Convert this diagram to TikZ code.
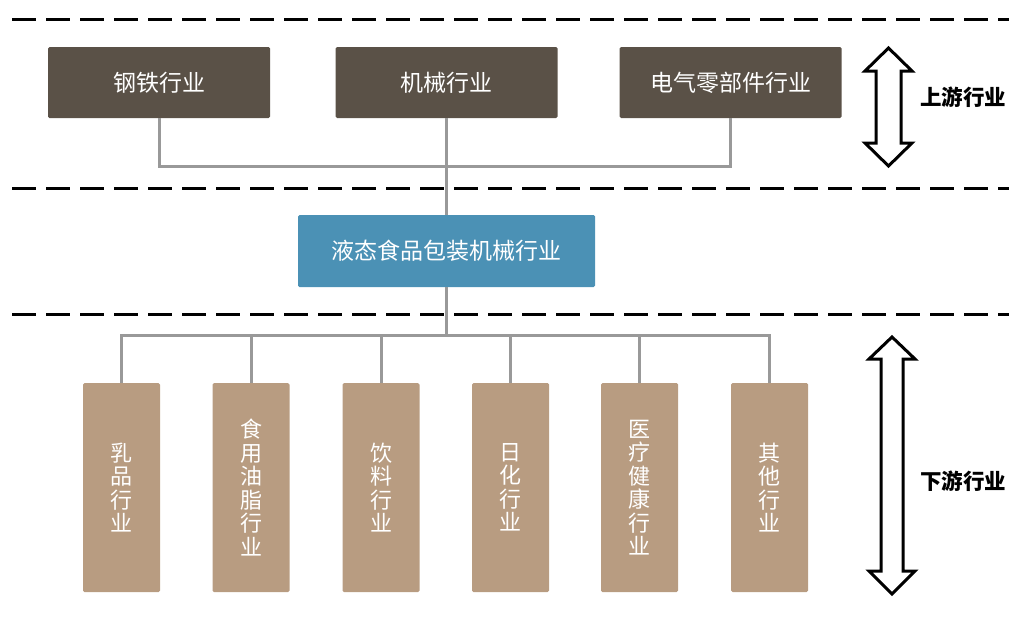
\documentclass[tikz,border=0pt]{standalone}
\usepackage{fontspec}
\newfontfamily\cjk{Noto Sans CJK SC}
\begin{document}
\begin{tikzpicture}[x=1pt,y=-1pt,
  sep/.style={line width=3pt, dash pattern=on 24pt off 10pt},
  topbox/.style={fill=topc, rounded corners=1.5pt, minimum width=222pt, minimum height=71pt, inner sep=0pt, text=white, font=\cjk\fontsize{23}{25}\selectfont},
  midbox/.style={fill=midc, rounded corners=1.5pt, minimum width=297pt, minimum height=72pt, inner sep=0pt, text=white, font=\cjk\fontsize{23}{25}\selectfont},
  botbox/.style={fill=botc, rounded corners=1.5pt, minimum width=77pt, minimum height=209pt, inner sep=0pt, text=white, align=center, font=\cjk\fontsize{22}{23.5}\selectfont},
  conn/.style={draw=connc, line width=3pt},
  dblarrow/.style={draw=black, line width=3pt, fill=white, line join=miter},
  lab/.style={font=\cjk\bfseries\fontsize{21.5}{24}\selectfont, text=black, anchor=west, inner sep=0pt}
]
\definecolor{topc}{HTML}{5A5147}
\definecolor{midc}{HTML}{4B91B5}
\definecolor{botc}{HTML}{B89C81}
\definecolor{connc}{HTML}{999999}
\useasboundingbox (0,0) rectangle (1009,616);

% separators
\draw[sep] (12,19) -- (1009,19);
\draw[sep] (12,188) -- (1009,188);
\draw[sep] (12,314) -- (1009,314);

% top boxes
\node[topbox] (steel) at (159,82.5) {钢铁行业};
\node[topbox] (mach) at (446.5,82.5) {机械行业};
\node[topbox] (elec) at (730.5,82.5) {电气零部件行业};

% middle box
\node[midbox] (pack) at (446.5,251) {液态食品包装机械行业};

% bottom boxes
\node[botbox] (b1) at (121.5,487.5) {乳\\品\\行\\业};
\node[botbox] (b2) at (251,487.5) {食\\用\\油\\脂\\行\\业};
\node[botbox] (b3) at (381,487.5) {饮\\料\\行\\业};
\node[botbox] (b4) at (510.5,487.5) {日\\化\\行\\业};
\node[botbox] (b5) at (639.5,487.5) {医\\疗\\健\\康\\行\\业};
\node[botbox] (b6) at (769.5,487.5) {其\\他\\行\\业};

% upper connectors
\coordinate (jt) at (446.5,166);
\draw[conn] (steel.south) |- (jt);
\draw[conn] (elec.south) |- (jt);
\draw[conn] (mach.south) -- (pack.north);

% lower connectors
\coordinate (jb) at (446.5,335);
\draw[conn] (pack.south) -- (jb);
\draw[conn] (b1.north) |- (jb);
\draw[conn] (b6.north) |- (jb);
\foreach \b in {b2,b3,b4,b5} \draw[conn] (\b.north) -- (\b.north |- jb);

% double arrows
\draw[dblarrow] (888.5,48) -- (912,71) -- (901,71) -- (901,143) -- (912,143) -- (888.5,166) -- (865,143) -- (876,143) -- (876,71) -- (865,71) -- cycle;
\draw[dblarrow] (892,337) -- (915,359) -- (903,359) -- (903,571) -- (915,571) -- (892,594) -- (869,571) -- (881,571) -- (881,359) -- (869,359) -- cycle;

\node[lab] (up) at (920,97) {上游行业};
\node[lab] (down) at (920,481) {下游行业};
\end{tikzpicture}
\end{document}
